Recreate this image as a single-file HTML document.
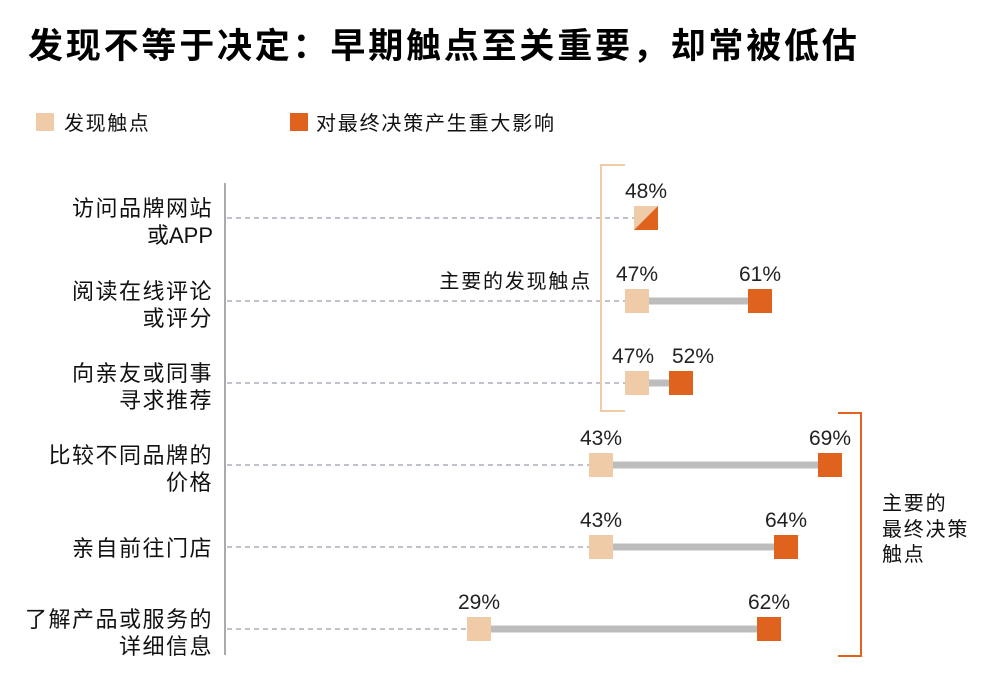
<!DOCTYPE html>
<html><head><meta charset="utf-8"><style>
body{margin:0;background:#fff}
svg{display:block;font-family:"Liberation Sans","Noto Sans CJK SC",sans-serif}
</style></head><body>
<svg width="1000" height="700" viewBox="0 0 1000 700">
<text x="28" y="58" font-size="35" font-weight="bold" letter-spacing="2.8" fill="#000">发现不等于决定：早期触点至关重要，却常被低估</text>
<rect x="36" y="113" width="18" height="18" fill="#EFCBA7"/>
<text x="64" y="130" font-size="20" letter-spacing="1.6" fill="#111">发现触点</text>
<rect x="290" y="113" width="18" height="18" fill="#E0621F"/>
<text x="316" y="130" font-size="20" letter-spacing="1.8" fill="#111">对最终决策产生重大影响</text>
<line x1="225" y1="183" x2="225" y2="655" stroke="#aaa" stroke-width="2"/>
<g font-size="22" fill="#111" text-anchor="end" letter-spacing="1.5">
<text x="213" y="216">访问品牌网站</text><text x="213" y="243" letter-spacing="0">或APP</text>
<text x="213" y="299">阅读在线评论</text><text x="213" y="326">或评分</text>
<text x="213" y="381">向亲友或同事</text><text x="213" y="408">寻求推荐</text>
<text x="213" y="463">比较不同品牌的</text><text x="213" y="490">价格</text>
<text x="213" y="556">亲自前往门店</text>
<text x="213" y="627">了解产品或服务的</text><text x="213" y="654">详细信息</text>
</g>
<g stroke="#a9adb8" stroke-width="1.5" stroke-dasharray="5,4">
<line x1="227" y1="218" x2="634" y2="218"/>
<line x1="227" y1="301" x2="625" y2="301"/>
<line x1="227" y1="383" x2="625" y2="383"/>
<line x1="227" y1="465" x2="589" y2="465"/>
<line x1="227" y1="547" x2="589" y2="547"/>
<line x1="227" y1="629" x2="467" y2="629"/>
</g>
<g fill="#bdbdbd">
<rect x="637" y="297.5" width="123" height="7"/>
<rect x="637" y="379.5" width="44" height="7"/>
<rect x="601" y="461.5" width="229" height="7"/>
<rect x="601" y="543.5" width="185" height="7"/>
<rect x="479" y="625.5" width="290" height="7"/>
</g>
<g fill="#EFCBA7">
<rect x="634" y="206" width="24" height="24"/>
<rect x="625" y="289" width="24" height="24"/>
<rect x="625" y="371" width="24" height="24"/>
<rect x="589" y="453" width="24" height="24"/>
<rect x="589" y="535" width="24" height="24"/>
<rect x="467" y="617" width="24" height="24"/>
</g>
<g fill="#E0621F">
<polygon points="658,206 658,230 634,230"/>
<rect x="748" y="289" width="24" height="24"/>
<rect x="669" y="371" width="24" height="24"/>
<rect x="818" y="453" width="24" height="24"/>
<rect x="774" y="535" width="24" height="24"/>
<rect x="757" y="617" width="24" height="24"/>
</g>
<g font-size="21" fill="#222" text-anchor="middle">
<text x="646" y="198">48%</text>
<text x="637" y="281">47%</text><text x="760" y="281">61%</text>
<text x="633" y="363">47%</text><text x="693" y="363">52%</text>
<text x="601" y="445">43%</text><text x="830" y="445">69%</text>
<text x="601" y="527">43%</text><text x="786" y="527">64%</text>
<text x="479" y="609">29%</text><text x="769" y="609">62%</text>
</g>
<polyline points="625,165 601,165 601,411 625,411" fill="none" stroke="#EFCBA7" stroke-width="2"/>
<text x="592" y="288" font-size="20" letter-spacing="1.8" fill="#111" text-anchor="end">主要的发现触点</text>
<polyline points="838,413 861,413 861,656 838,656" fill="none" stroke="#E0621F" stroke-width="2"/>
<g font-size="20" fill="#111" letter-spacing="1.8">
<text x="882" y="510">主要的</text><text x="882" y="536">最终决策</text><text x="882" y="561">触点</text>
</g>
</svg>
</body></html>
